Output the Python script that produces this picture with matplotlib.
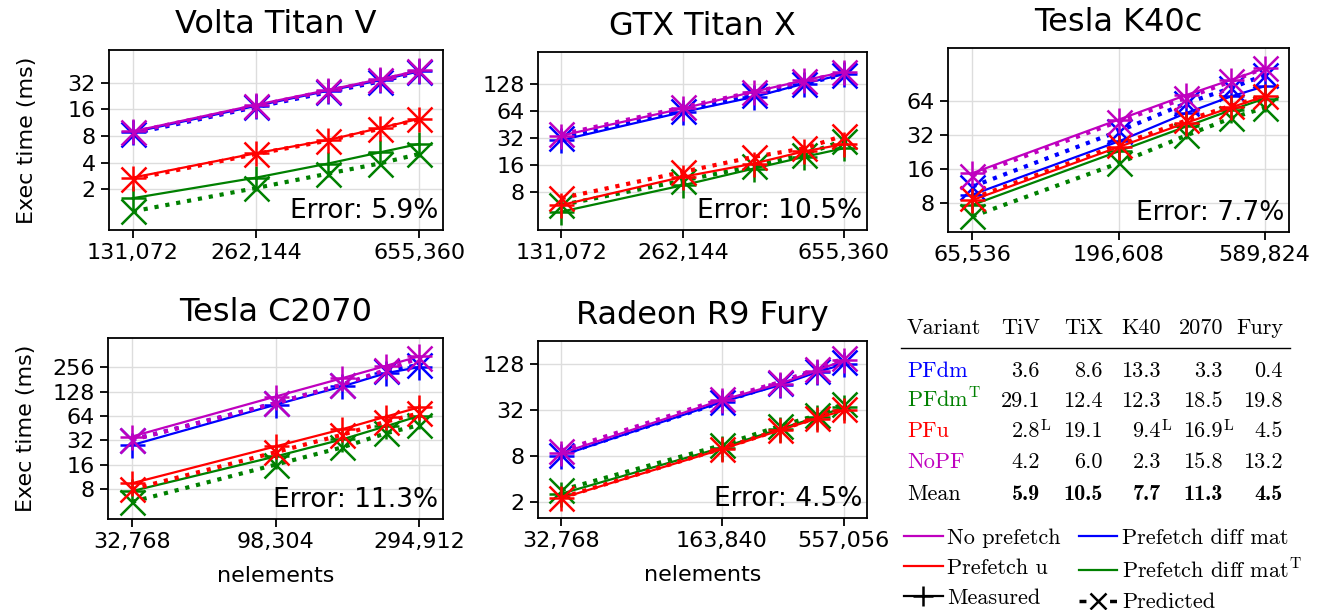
import matplotlib
matplotlib.use("Agg")
import matplotlib.pyplot as plt
from matplotlib.ticker import FixedLocator, FixedFormatter, NullLocator
from matplotlib.lines import Line2D

plt.rcParams['mathtext.fontset'] = 'cm'

# ---------------- data ----------------
VARIANTS = ['PFdm', 'PFdmT', 'PFu', 'NoPF']
COLORS = {'PFdm': 'b', 'PFdmT': 'g', 'PFu': 'r', 'NoPF': 'm'}

# Volta Titan V
volta_x = [131072, 262144, 393216, 524288, 655360]
volta_meas = {'PFdm': [8.8, 17.5, 26, 34, 43],
              'PFdmT': [1.58, 2.7, 3.9, 5.2, 6.5],
              'PFu': [2.7, 5.1, 7.2, 9.8, 12.5],
              'NoPF': [9.0, 18, 26.5, 35, 44]}
volta_pred = {'PFdm': [8.5, 17, 25, 33, 42],
              'PFdmT': [1.12, 2.06, 3.0, 3.9, 5.0],
              'PFu': [2.6, 5.0, 7.1, 9.6, 12.3],
              'NoPF': [8.8, 17.5, 26, 34, 43]}

# GTX Titan X
titanx_x = [131072, 262144, 393216, 524288, 655360]
titanx_meas = {'PFdm': [30.3, 62, 91, 128, 162],
               'PFdmT': [4.9, 9.6, 14.7, 19.8, 24.6],
               'PFu': [5.8, 11.9, 16.7, 22.8, 27.3],
               'NoPF': [34, 68, 104, 139, 172]}
titanx_pred = {'PFdm': [32, 64, 95, 128, 160],
               'PFdmT': [5.8, 10.8, 15.6, 21, 30],
               'PFu': [6.9, 13.5, 19.8, 24.6, 34],
               'NoPF': [35, 70, 104, 135, 170]}

# Tesla K40c
k40_x = [65536, 196608, 327680, 458752, 589824]
k40_meas = {'PFdm': [9.5, 28, 50, 70, 86],
            'PFdmT': [7.7, 22.9, 38, 53, 67],
            'PFu': [8.5, 25, 41, 56, 70],
            'NoPF': [14.7, 43.6, 72, 98, 124]}
k40_pred = {'PFdm': [11.2, 34.4, 61, 83, 108],
            'PFdmT': [6.1, 18, 31.7, 45, 55.5],
            'PFu': [8.8, 26, 43, 58, 70],
            'NoPF': [14, 42, 68, 95, 125]}

# Tesla C2070
c2070_x = [32768, 98304, 163840, 229376, 294912]
c2070_meas = {'PFdm': [28, 88, 148, 216, 256],
              'PFdmT': [7.6, 20.3, 33, 48, 64],
              'PFu': [9.5, 27, 44, 63, 82],
              'NoPF': [35.7, 111, 187, 266, 347]}
c2070_pred = {'PFdm': [32.5, 92, 155, 226, 274],
              'PFdmT': [5.6, 16.1, 26.3, 39.3, 49.3],
              'PFu': [8.0, 22.9, 37.6, 54.6, 69],
              'NoPF': [32.5, 92, 156, 237, 330]}

# Radeon R9 Fury
fury_x = [32768, 163840, 294912, 425984, 557056]
fury_meas = {'PFdm': [8.2, 41, 68.5, 101, 128],
             'PFdmT': [2.6, 10.4, 18.3, 26, 35],
             'PFu': [2.27, 9.9, 17.6, 25, 32],
             'NoPF': [8.8, 43.5, 71.6, 106, 144]}
fury_pred = {'PFdm': [8.4, 41, 72, 106, 137],
             'PFdmT': [2.9, 11.2, 20, 27.5, 39],
             'PFu': [2.3, 10.1, 17.9, 25.5, 33],
             'NoPF': [9.5, 45, 75, 112, 153]}

# error table (%), columns TiV TiX K40 2070 Fury
TABLE_COLS = ['TiV', 'TiX', 'K40', '2070', 'Fury']
err_pfdm = ['3.6', '8.6', '13.3', '3.3', '0.4']
err_pfdmt = ['29.1', '12.4', '12.3', '18.5', '19.8']
err_pfu = ['2.8', '19.1', '9.4', '16.9', '4.5']
err_pfu_flag = ['L', '', 'L', 'L', '']
err_nopf = ['4.2', '6.0', '2.3', '15.8', '13.2']
err_mean = ['5.9', '10.5', '7.7', '11.3', '4.5']


W, H = 1321, 610


def px_box(left, top, right, bottom):
    """axes rectangle from pixel edges"""
    return [left / W, 1 - bottom / H, (right - left) / W, (bottom - top) / H]


def plot_gpu(ax, title, x, meas, pred, yticks, ylim, err):
    for v in VARIANTS:
        c = COLORS[v]
        ax.plot(x, meas[v], '-', marker='+', color=c, lw=1.6, ms=18, mew=1.8)
        ax.plot(x, pred[v], ':', marker='x', color=c, lw=3, ms=18, mew=1.8)
    ax.set_xscale('log', base=2)
    ax.set_yscale('log', base=2)
    ax.margins(x=0.083)
    ax.set_ylim(*ylim)

    xt = [x[0], x[1], x[-1]]
    ax.xaxis.set_major_locator(FixedLocator(xt))
    ax.xaxis.set_major_formatter(FixedFormatter(["{:,}".format(v) for v in xt]))
    ax.yaxis.set_major_locator(FixedLocator(yticks))
    ax.yaxis.set_major_formatter(FixedFormatter([str(v) for v in yticks]))
    ax.xaxis.set_minor_locator(NullLocator())
    ax.yaxis.set_minor_locator(NullLocator())

    ax.grid(True, color='#dddddd', lw=1)
    ax.set_axisbelow(True)
    ax.tick_params(labelsize=16, length=6, width=1.3)
    for s in ax.spines.values():
        s.set_linewidth(1.3)
    ax.set_title(title, fontsize=23, pad=12)
    ax.text(0.985, 0.035, "Error: {}%".format(err), transform=ax.transAxes,
            ha='right', va='bottom', fontsize=19)


fig = plt.figure(figsize=(W / 100, H / 100), dpi=100)

ax1 = fig.add_axes(px_box(109, 50, 443, 230))
plot_gpu(ax1, "Volta Titan V", volta_x, volta_meas, volta_pred,
         [2, 4, 8, 16, 32], (0.69, 75), err_mean[0])
ax1.set_ylabel("Exec time (ms)", fontsize=16, labelpad=22)

ax2 = fig.add_axes(px_box(538, 52, 867, 230))
plot_gpu(ax2, "GTX Titan X", titanx_x, titanx_meas, titanx_pred,
         [8, 16, 32, 64, 128], (3.07, 286), err_mean[1])

ax3 = fig.add_axes(px_box(948, 48, 1289, 232))
plot_gpu(ax3, "Tesla K40c", k40_x, k40_meas, k40_pred,
         [8, 16, 32, 64], (4.45, 187), err_mean[2])

ax4 = fig.add_axes(px_box(108, 338, 443, 519))
plot_gpu(ax4, "Tesla C2070", c2070_x, c2070_meas, c2070_pred,
         [8, 16, 32, 64, 128, 256], (3.45, 584), err_mean[3])
ax4.set_ylabel("Exec time (ms)", fontsize=16, labelpad=12)
ax4.set_xlabel("nelements", fontsize=16, labelpad=10)

ax5 = fig.add_axes(px_box(538, 341, 867, 518))
plot_gpu(ax5, "Radeon R9 Fury", fury_x, fury_meas, fury_pred,
         [2, 8, 32, 128], (1.25, 258), err_mean[4])
ax5.set_xlabel("nelements", fontsize=16, labelpad=10)

# ---------------- error table ----------------
FS = 16
col_right = [1040, 1103, 1161, 1223, 1283]
name_left = 907


def ftxt(x, y, s, **kw):
    fig.text(x / W, 1 - y / H, s, va='baseline', fontsize=FS, **kw)


ftxt(name_left, 334, "Variant", family='cmr10')
for cx, lab in zip(col_right, TABLE_COLS):
    ftxt(cx, 334, lab, family='cmr10', ha='right')
fig.add_artist(Line2D([901 / W, 1290 / W], [1 - 348 / H, 1 - 348 / H],
                      color='k', lw=1.0))

rows = [("PFdm", err_pfdm, 'b', 377),
        (r"PFdm$^\mathrm{T}$", err_pfdmt, 'g', 407),
        ("PFu", err_pfu, 'r', 437),
        ("NoPF", err_nopf, 'm', 468)]
for name, vals, c, y in rows:
    ftxt(name_left, y, name, family='cmr10', color=c)
    for cx, v in zip(col_right, vals):
        ftxt(cx, y, v, family='cmr10', ha='right')
for cx, f in zip(col_right, err_pfu_flag):
    if f:
        ftxt(cx, 437, r"$^\mathrm{%s}$" % f, ha='left')

ftxt(name_left, 500, "Mean", family='cmr10')
for cx, v in zip(col_right, err_mean):
    ftxt(cx, 500, v, family='cmb10', ha='right')

# ---------------- legend ----------------
handles = [
    Line2D([], [], color='m', lw=1.6),
    Line2D([], [], color='r', lw=1.6),
    Line2D([], [], color='k', lw=1.6, marker='+', ms=14, mew=1.8),
    Line2D([], [], color='b', lw=1.6),
    Line2D([], [], color='g', lw=1.6),
    Line2D([], [], color='k', lw=2.5, ls=(0, (2.0, 6.8)), marker='x',
           ms=12, mew=1.8),
]
labels = ["No prefetch", "Prefetch u", "Measured",
          "Prefetch diff mat", r"Prefetch diff mat$^\mathrm{T}$", "Predicted"]
fig.legend(handles, labels, ncol=2, frameon=False, loc='upper left',
           bbox_to_anchor=(904 / W, 1 - 528 / H),
           prop={'family': 'cmr10', 'size': FS},
           handlelength=1.75, handletextpad=0.2, columnspacing=0.8,
           labelspacing=0.48, borderpad=0, borderaxespad=0)

fig.savefig("out.png", dpi=100)
